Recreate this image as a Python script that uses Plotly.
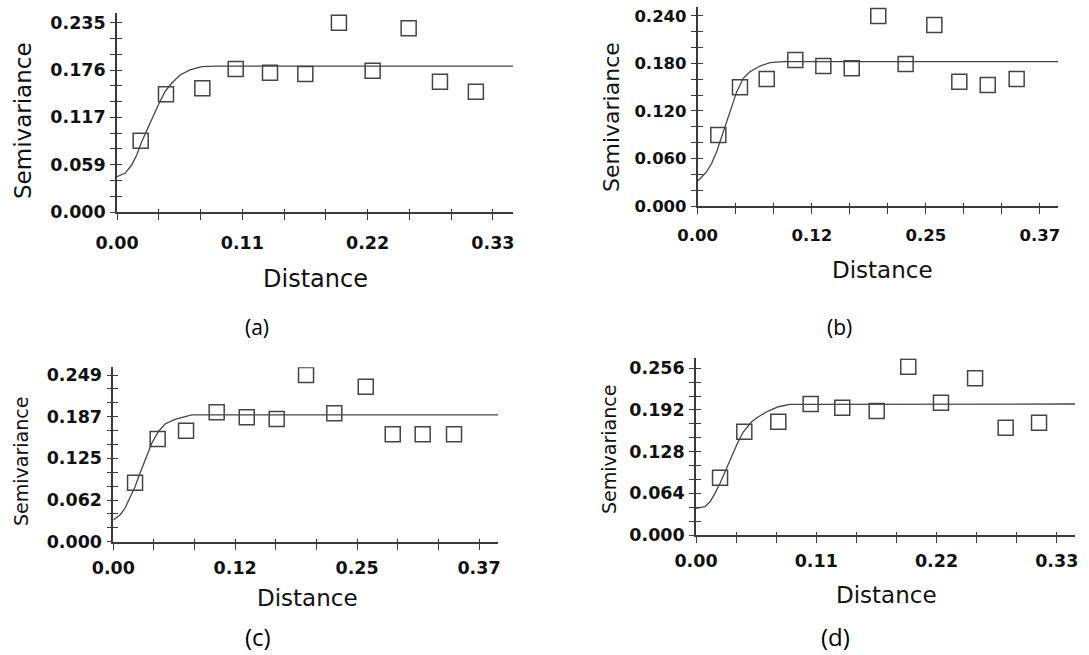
import plotly.graph_objects as go

W, H = 1089, 655

# ---------------- data ----------------
# (a)
a_dist = [0.0208, 0.0430, 0.0749, 0.1042, 0.1343, 0.1653, 0.1948, 0.2244, 0.2560, 0.2835, 0.3150]
a_semi = [0.0885, 0.1461, 0.1536, 0.1775, 0.1729, 0.1713, 0.2350, 0.1754, 0.2280, 0.1618, 0.1494]
a_model_dist = [0.0, 0.0070, 0.0129, 0.0173, 0.0217, 0.0261, 0.0305, 0.0362, 0.0421, 0.0480,
                0.0553, 0.0641, 0.0743, 0.0875, 0.3476]
a_model_semi = [0.0438, 0.0480, 0.0583, 0.0708, 0.0873, 0.1018, 0.1142, 0.1328, 0.1493, 0.1598,
                0.1701, 0.1763, 0.1804, 0.1810, 0.1810]
a_xticks = [0.0, 0.11, 0.22, 0.33]
a_xlabels = ["0.00", "0.11", "0.22", "0.33"]
a_yticks = [0.0, 0.05875, 0.1175, 0.17625, 0.235]
a_ylabels = ["0.000", "0.059", "0.117", "0.176", "0.235"]

# (b)
b_dist = [0.0223, 0.0457, 0.0746, 0.1055, 0.1358, 0.1665, 0.1952, 0.2248, 0.2558, 0.2828, 0.3135, 0.3448]
b_semi = [0.0897, 0.1499, 0.1604, 0.1844, 0.1768, 0.1739, 0.2400, 0.1794, 0.2286, 0.1570, 0.1528, 0.1604]
b_model_dist = [0.0, 0.0032, 0.0097, 0.0151, 0.0205, 0.0259, 0.0313, 0.0368, 0.0422, 0.0493,
                0.0565, 0.0673, 0.0782, 0.0925, 0.3898]
b_model_semi = [0.0316, 0.0350, 0.0433, 0.0539, 0.0686, 0.0875, 0.1065, 0.1254, 0.1444, 0.1613,
                0.1696, 0.1768, 0.1810, 0.1823, 0.1823]
b_xticks = [0.0, 0.37 / 3, 0.74 / 3, 0.37]
b_xlabels = ["0.00", "0.12", "0.25", "0.37"]
b_yticks = [0.0, 0.06, 0.12, 0.18, 0.24]
b_ylabels = ["0.000", "0.060", "0.120", "0.180", "0.240"]

# (c)
c_dist = [0.0220, 0.0449, 0.0736, 0.1046, 0.1350, 0.1653, 0.1950, 0.2236, 0.2554, 0.2827, 0.3130, 0.3447]
c_semi = [0.0881, 0.1534, 0.1658, 0.1933, 0.1858, 0.1833, 0.2490, 0.1918, 0.2315, 0.1604, 0.1604, 0.1604]
c_model_dist = [0.0, 0.0068, 0.0118, 0.0169, 0.0220, 0.0270, 0.0321, 0.0389, 0.0455, 0.0523,
                0.0624, 0.0725, 0.0793, 0.3895]
c_model_semi = [0.0324, 0.0399, 0.0499, 0.0648, 0.0822, 0.1022, 0.1220, 0.1470, 0.1643, 0.1758,
                0.1828, 0.1867, 0.1893, 0.1893]
c_xticks = [0.0, 0.37 / 3, 0.74 / 3, 0.37]
c_xlabels = ["0.00", "0.12", "0.25", "0.37"]
c_yticks = [0.0, 0.06225, 0.1245, 0.18675, 0.249]
c_ylabels = ["0.000", "0.062", "0.125", "0.187", "0.249"]

# (d)
d_dist = [0.0220, 0.0442, 0.0753, 0.1049, 0.1338, 0.1653, 0.1942, 0.2241, 0.2553, 0.2833, 0.3138]
d_semi = [0.0880, 0.1586, 0.1740, 0.2012, 0.1955, 0.1904, 0.2585, 0.2032, 0.2406, 0.1648, 0.1725]
d_model_dist = [0.0, 0.0082, 0.0128, 0.0174, 0.0220, 0.0265, 0.0311, 0.0372, 0.0433, 0.0510,
                0.0570, 0.0661, 0.0753, 0.0860, 0.3467]
d_model_semi = [0.0410, 0.0435, 0.0511, 0.0640, 0.0794, 0.0972, 0.1152, 0.1382, 0.1586, 0.1740,
                0.1817, 0.1904, 0.1970, 0.2007, 0.2012]
d_xticks = [0.0, 0.11, 0.22, 0.33]
d_xlabels = ["0.00", "0.11", "0.22", "0.33"]
d_yticks = [0.0, 0.064, 0.128, 0.192, 0.256]
d_ylabels = ["0.000", "0.064", "0.128", "0.192", "0.256"]

captions = ["(a)", "(b)", "(c)", "(d)"]
x_title = "Distance"
y_title = "Semivariance"

# ---------------- layout config (pixels) ----------------
panels = [
    dict(dist=a_dist, semi=a_semi, mx=a_model_dist, my=a_model_semi,
         xt=a_xticks, xl=a_xlabels, yt=a_yticks, yl=a_ylabels,
         xdom=(117, 513), ydom=(13, 212), xmax=0.3476, ymax=0.247,
         xstand=8, ytitle=(23, 121, 23), xtitle=(315, 279, 24), cap=(257, 327, 21), tfs=18),
    dict(dist=b_dist, semi=b_semi, mx=b_model_dist, my=b_model_semi,
         xt=b_xticks, xl=b_xlabels, yt=b_yticks, yl=b_ylabels,
         xdom=(697.7, 1058.3), ydom=(6.7, 206), xmax=0.3898, ymax=0.2517,
         xstand=7, ytitle=(612, 117, 22), xtitle=(882, 270, 23), cap=(839, 327, 21), tfs=17),
    dict(dist=c_dist, semi=c_semi, mx=c_model_dist, my=c_model_semi,
         xt=c_xticks, xl=c_xlabels, yt=c_yticks, yl=c_ylabels,
         xdom=(113.3, 498.3), ydom=(367.3, 541.7), xmax=0.3895, ymax=0.2605,
         xstand=3, ytitle=(21, 462, 19), xtitle=(307, 598, 23), cap=(258, 636, 24), tfs=18),
    dict(dist=d_dist, semi=d_semi, mx=d_model_dist, my=d_model_semi,
         xt=d_xticks, xl=d_xlabels, yt=d_yticks, yl=d_ylabels,
         xdom=(696, 1075), ydom=(358.3, 535), xmax=0.3467, ymax=0.2714,
         xstand=3, ytitle=(609, 450, 19), xtitle=(886, 595, 23), cap=(836, 636, 24), tfs=18),
]

FONT = "DejaVu Sans"
INK = "#111111"
AXC = "#3a3a3a"
MARK = "#444444"

fig = go.Figure()
layout = dict(width=W, height=H, margin=dict(l=0, r=0, t=0, b=0, pad=0),
              paper_bgcolor="white", plot_bgcolor="white", showlegend=False,
              annotations=[])


def ax_name(kind, i):
    return f"{kind}axis" if i == 1 else f"{kind}axis{i}"


def ref(kind, i):
    return kind if i == 1 else f"{kind}{i}"


for k, p in enumerate(panels):
    i = k + 1
    o = i + 4
    xstep = p["xt"][1] - p["xt"][0]
    ystep = p["yt"][1] - p["yt"][0]
    tf = dict(family=FONT, size=p["tfs"] - 0.5, color=INK, weight="bold")
    common = dict(showgrid=False, zeroline=False, tickcolor=AXC, tickwidth=1.4,
                  automargin=False)

    layout[ax_name("x", i)] = dict(
        domain=[p["xdom"][0] / W, p["xdom"][1] / W], anchor=ref("y", i),
        range=[0, p["xmax"]], tickmode="array", tickvals=p["xt"], ticktext=p["xl"],
        ticks="outside", ticklen=6, showline=True, linecolor=AXC, linewidth=1.6,
        tickfont=tf, ticklabelstandoff=p["xstand"],
        minor=dict(tick0=0, dtick=xstep / 3, ticks="outside", ticklen=6,
                   tickcolor=AXC, tickwidth=1.4, showgrid=False), **common)
    layout[ax_name("y", i)] = dict(
        domain=[1 - p["ydom"][1] / H, 1 - p["ydom"][0] / H], anchor=ref("x", i),
        range=[0, p["ymax"]], tickmode="array", tickvals=p["yt"], ticktext=p["yl"],
        ticks="outside", ticklen=5, showline=True, linecolor=AXC, linewidth=1.6,
        tickfont=tf, ticklabelstandoff=1,
        minor=dict(tick0=0, dtick=ystep / 3, ticks="outside", ticklen=5,
                   tickcolor=AXC, tickwidth=1.4, showgrid=False), **common)
    # overlay axes: inner half of the crossing tick marks
    layout[ax_name("x", o)] = dict(
        overlaying=ref("x", i), anchor=ref("y", o), range=[0, p["xmax"]],
        tickmode="array", tickvals=p["xt"], ticks="inside", ticklen=3,
        showticklabels=False, showline=False,
        minor=dict(tick0=0, dtick=xstep / 3, ticks="inside", ticklen=3,
                   tickcolor=AXC, tickwidth=1.4, showgrid=False), **common)
    layout[ax_name("y", o)] = dict(
        overlaying=ref("y", i), anchor=ref("x", o), range=[0, p["ymax"]],
        tickmode="array", tickvals=p["yt"], ticks="inside", ticklen=5,
        showticklabels=False, showline=False,
        minor=dict(tick0=0, dtick=ystep / 3, ticks="inside", ticklen=5,
                   tickcolor=AXC, tickwidth=1.4, showgrid=False), **common)

    fig.add_trace(go.Scatter(x=p["mx"], y=p["my"], mode="lines",
                             line=dict(color=MARK, width=1.3),
                             xaxis=ref("x", o), yaxis=ref("y", o), hoverinfo="skip"))
    fig.add_trace(go.Scatter(x=p["dist"], y=p["semi"], mode="markers",
                             marker=dict(symbol="square-open", size=15, color=MARK,
                                         line=dict(width=1.5, color=MARK)),
                             xaxis=ref("x", i), yaxis=ref("y", i)))

    tx, ty, ts = p["ytitle"]
    layout["annotations"].append(dict(
        text=y_title, x=tx / W, y=1 - ty / H, xref="paper", yref="paper",
        xanchor="center", yanchor="middle", textangle=-90, showarrow=False,
        font=dict(family=FONT, size=ts, color=INK)))
    tx, ty, ts = p["xtitle"]
    layout["annotations"].append(dict(
        text=x_title, x=tx / W, y=1 - ty / H, xref="paper", yref="paper",
        xanchor="center", yanchor="middle", showarrow=False,
        font=dict(family=FONT, size=ts, color=INK)))
    tx, ty, ts = p["cap"]
    layout["annotations"].append(dict(
        text=captions[k], x=tx / W, y=1 - ty / H, xref="paper", yref="paper",
        xanchor="center", yanchor="middle", showarrow=False,
        font=dict(family="Open Sans", size=ts, color="#000000")))

fig.update_layout(**layout)
fig.write_html("out.html", config={"displayModeBar": False},
               post_script="document.body.style.margin='0';")
